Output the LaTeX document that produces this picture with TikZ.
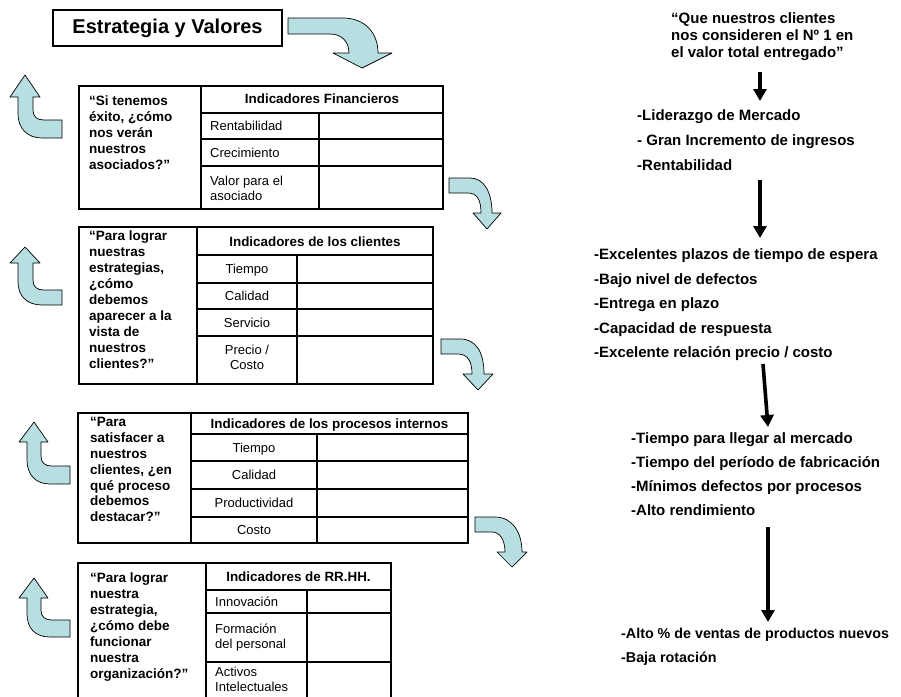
\documentclass[tikz,border=0pt]{standalone}
\usepackage{fontspec}
\setmainfont{Liberation Sans}
\usetikzlibrary{arrows.meta}
\definecolor{bendfill}{RGB}{183,222,224}
\begin{document}
\begin{tikzpicture}[x=1pt,y=-1pt,
  grid/.style={line width=1.6pt, line cap=rect},
  blockarrow/.style={fill=bendfill, draw=black, line width=0.7pt, line join=round},
  qtext/.style={anchor=north west, align=left, inner sep=0pt,
    font=\fontsize{13.5}{15.9}\selectfont\bfseries},
  headtext/.style={anchor=base, inner sep=0pt,
    font=\fontsize{13.4}{16}\selectfont\bfseries},
  celltext/.style={inner sep=0pt, font=\fontsize{13}{15}\selectfont},
  rtext/.style={anchor=base west, inner sep=0pt,
    font=\fontsize{15}{17}\selectfont\bfseries},
  flow/.style={-{Triangle[length=12pt,width=13pt]}, line width=3.6pt}]
\useasboundingbox (0,0) rectangle (901,696);
\clip (0,0) rectangle (901,696);

% ---------- title ----------
\node[draw, line width=1.2pt, minimum width=229pt, minimum height=36pt,
  inner sep=0pt, font=\fontsize{20}{24}\selectfont\bfseries]
  (title) at (167.5,28) {Estrategia y Valores};

% ---------- bent block arrows ----------
% large arrow from the title down to the first table
\draw[blockarrow] (288,18) -- (343,18) .. controls (365,18) and (378,33) .. (378,53)
  -- (392,53) -- (362,68) -- (333,53) -- (349,53)
  .. controls (349,42) and (342,34) .. (330,34) -- (288,34) -- cycle;
% small arrows on the right of the tables
\draw[blockarrow] (449,178) -- (470,178) .. controls (484,178) and (492,192) .. (492,213)
  -- (501,213) -- (487,229) -- (473,213) -- (481,213)
  .. controls (481,200) and (477,193) .. (468,193) -- (449,193) -- cycle;
\draw[blockarrow] (441,339) -- (460,339) .. controls (476,339) and (484,352) .. (484,374)
  -- (493,374) -- (478,390) -- (463,374) -- (472,374)
  .. controls (472,362) and (468,354) .. (458,354) -- (441,354) -- cycle;
\draw[blockarrow] (475,517) -- (495,517) .. controls (512,517) and (522,532) .. (522,552)
  -- (527,552) -- (512,567) -- (497,552) -- (505,552)
  .. controls (505,540) and (500,532) .. (492,532) -- (475,532) -- cycle;
% upward arrows on the left of the tables
\draw[blockarrow] (25,75) -- (40,97) -- (33,97) -- (33,110)
  .. controls (33,117) and (37,120) .. (44,120) -- (62,120) -- (62,138) -- (42,138)
  .. controls (27,138) and (18,128) .. (18,114) -- (18,97) -- (10,97) -- cycle;
\draw[blockarrow] (25,247) -- (40,263) -- (33,263) -- (33,280)
  .. controls (33,287) and (37,290) .. (44,290) -- (62,290) -- (62,305) -- (42,305)
  .. controls (27,305) and (18,296) .. (18,282) -- (18,263) -- (10,263) -- cycle;
\draw[blockarrow] (34,422) -- (48,442) -- (41,442) -- (41,456)
  .. controls (41,463) and (45,466) .. (52,466) -- (70,466) -- (70,484) -- (50,484)
  .. controls (35,484) and (27,474) .. (27,460) -- (27,442) -- (19,442) -- cycle;
\draw[blockarrow] (34,578) -- (48,598) -- (41,598) -- (41,610)
  .. controls (41,617) and (45,620) .. (52,620) -- (70,620) -- (70,637) -- (50,637)
  .. controls (35,637) and (27,628) .. (27,614) -- (27,598) -- (19,598) -- cycle;

% ---------- table 1: financial ----------
\draw[grid] (79,86) rectangle (443,209);
\draw[grid] (201,86) -- (201,209) (201,113) -- (443,113) (319,113) -- (319,209)
  (201,139) -- (443,139) (201,166) -- (443,166);
\node[qtext] (q1) at (89,95.5) {“Si tenemos\\éxito, ¿cómo\\nos verán\\nuestros\\asociados?”};
\node[headtext] (h1) at (322,103.5) {Indicadores Financieros};
\node[celltext, anchor=base west] (f1) at (210,130.7) {Rentabilidad};
\node[celltext, anchor=base west] (f2) at (210,157) {Crecimiento};
\node[celltext, anchor=north west, align=left] (f3) at (210,175.6) {Valor para el\\asociado};

% ---------- table 2: customers ----------
\draw[grid] (79,227) rectangle (433,384);
\draw[grid] (197,227) -- (197,384) (197,255) -- (433,255) (297,255) -- (297,384)
  (197,283) -- (433,283) (197,309) -- (433,309) (197,336) -- (433,336);
\node[qtext] (q2) at (89,231) {“Para lograr\\nuestras\\estrategias,\\¿cómo\\debemos\\aparecer a la\\vista de\\nuestros\\clientes?”};
\node[headtext] (h2) at (315,246) {Indicadores de los clientes};
\node[celltext, anchor=base] (c1) at (247,273.7) {Tiempo};
\node[celltext, anchor=base] (c2) at (247,300.7) {Calidad};
\node[celltext, anchor=base] (c3) at (247,327.2) {Servicio};
\node[celltext, anchor=north, align=center] (c4) at (247,345) {Precio /\\Costo};

% ---------- table 3: internal processes ----------
\draw[grid] (78,413) rectangle (468,543);
\draw[grid] (191,413) -- (191,543) (191,434) -- (468,434) (317,434) -- (317,543)
  (191,461) -- (468,461) (191,489) -- (468,489) (191,517) -- (468,517);
\node[qtext] (q3) at (90,417) {“Para\\satisfacer a\\nuestros\\clientes, ¿en\\qué proceso\\debemos\\destacar?”};
\node[headtext] (h3) at (329.5,428.2) {Indicadores de los procesos internos};
\node[celltext, anchor=base] (p1) at (254,452.2) {Tiempo};
\node[celltext, anchor=base] (p2) at (254,479.7) {Calidad};
\node[celltext, anchor=base] (p3) at (254,507.7) {Productividad};
\node[celltext, anchor=base] (p4) at (254,534.7) {Costo};

% ---------- table 4: human resources (runs off the lower edge) ----------
\draw[grid] (78,710) -- (78,563) -- (391,563) -- (391,710);
\draw[grid] (206,563) -- (206,710) (206,590) -- (391,590) (307,590) -- (307,710)
  (206,613) -- (391,613) (206,662) -- (391,662);
\node[qtext] (q4) at (90,573) {“Para lograr\\nuestra\\estrategia,\\¿cómo debe\\funcionar\\nuestra\\organización?”};
\node[headtext] (h4) at (298.5,581.2) {Indicadores de RR.HH.};
\node[celltext, anchor=base west] (r1) at (215,606) {Innovación};
\node[celltext, anchor=north west, align=left] (r2) at (215,623.6) {Formación\\del personal};
\node[celltext, anchor=north west, align=left] (r3) at (215,666.6) {Activos\\Intelectuales};

% ---------- right column: cause and effect chain ----------
\node[rtext] (v1) at (671,23) {“Que nuestros clientes};
\node[rtext] (v2) at (671,40) {nos consideren el Nº 1 en};
\node[rtext] (v3) at (671,57) {el valor total entregado”};

\node[rtext] (m1) at (637,120) {-Liderazgo de Mercado};
\node[rtext] (m2) at (637,145) {- Gran Incremento de ingresos};
\node[rtext] (m3) at (637,170) {-Rentabilidad};

\node[rtext] (k1) at (594,259) {-Excelentes plazos de tiempo de espera};
\node[rtext] (k2) at (594,284) {-Bajo nivel de defectos};
\node[rtext] (k3) at (594,308) {-Entrega en plazo};
\node[rtext] (k4) at (594,333) {-Capacidad de respuesta};
\node[rtext] (k5) at (594,357) {-Excelente relación precio / costo};

\node[rtext] (i1) at (631,443) {-Tiempo para llegar al mercado};
\node[rtext] (i2) at (631,467) {-Tiempo del período de fabricación};
\node[rtext] (i3) at (631,491) {-Mínimos defectos por procesos};
\node[rtext] (i4) at (631,515) {-Alto rendimiento};

\node[rtext, font=\fontsize{14.3}{17}\selectfont\bfseries] (n1) at (621,638)
  {-Alto \% de ventas de productos nuevos};
\node[rtext, font=\fontsize{14.3}{17}\selectfont\bfseries] (n2) at (621,662)
  {-Baja rotación};

\coordinate (s1) at (760,72);  \coordinate (e1) at (760,101);
\coordinate (s2) at (760,180); \coordinate (e2) at (760,238);
\coordinate (s3) at (763,364); \coordinate (e3) at (768,427);
\coordinate (s4) at (768,527); \coordinate (e4) at (768,622);
\draw[flow] (s1) -- (e1);
\draw[flow] (s2) -- (e2);
\draw[flow] (s3) -- (e3);
\draw[flow] (s4) -- (e4);
\end{tikzpicture}
\end{document}
